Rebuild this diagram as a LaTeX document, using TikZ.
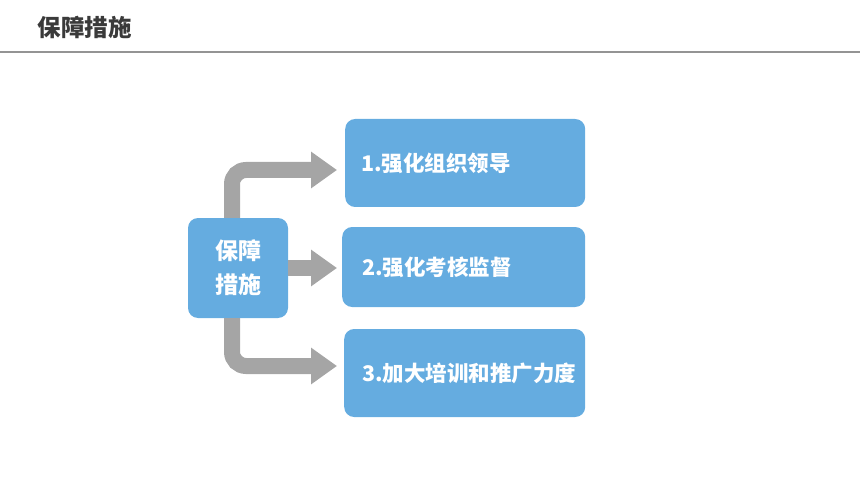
\documentclass[tikz,border=0pt]{standalone}
\usepackage{fontspec}
\usepackage{xcolor}
\usepackage{tikz}
\usetikzlibrary{arrows.meta, positioning}
\newfontfamily\cjk{Noto Sans CJK SC}

\definecolor{boxblue}{HTML}{65ACE0}
\definecolor{arrowgray}{HTML}{A5A5A5}
\definecolor{titlegray}{HTML}{3A3A3A}

\begin{document}
\begin{tikzpicture}[
    x=1pt, y=-1pt,
    font=\cjk\bfseries,
    box/.style={
        fill=boxblue, rounded corners=10pt, text=white, font=\cjk\bfseries\fontsize{21.5}{24}\selectfont
    },
    item/.style={
        box, anchor=west, align=left, inner xsep=16pt, text width=209pt, minimum height=88pt
    },
    flow/.style={
        draw=arrowgray, line width=16pt, rounded corners=14pt, -{Triangle[length=26pt, width=35pt]}
    }
]

% --- PARAMETER ---
\def\spine{232}  % x der senkrechten Pfeile
\def\tipx{337}   % Pfeilspitzen

\useasboundingbox (0,0) rectangle (860,484);

% --- KOPF ---
\node[anchor=west, text=titlegray, font=\cjk\bfseries\fontsize{23.5}{26}\selectfont] (title) at (34,27) {保障措施};
\draw[arrowgray!90!black, line width=1.5pt] (0,52) coordinate (rule l) -- (860,52) coordinate (rule r);

% --- KASTEN ---
\node[box, minimum width=100pt, minimum height=100pt, align=center, font=\cjk\bfseries\fontsize{23}{34}\selectfont] (main) at (238,268) {保障\\措施};

\node[item, text width=208pt] (b1) at (345,163) {1.强化组织领导};
\node[item, minimum height=80pt, text width=203pt, inner xsep=20pt] (b2) at (342,267) {2.强化考核监督};
\node[item, text width=205pt, inner xsep=18pt] (b3) at (344,373) {3.加大培训和推广力度};

% --- PFEILE ---
\coordinate (t1) at (\tipx,170);
\coordinate (t2) at (\tipx,268);
\coordinate (t3) at (\tipx,366);

\draw[flow] (main.north -| \spine,0) |- (t1);
\draw[flow] (main.east |- t2) -- (t2);
\draw[flow] (main.south -| \spine,0) |- (t3);
\end{tikzpicture}
\end{document}
